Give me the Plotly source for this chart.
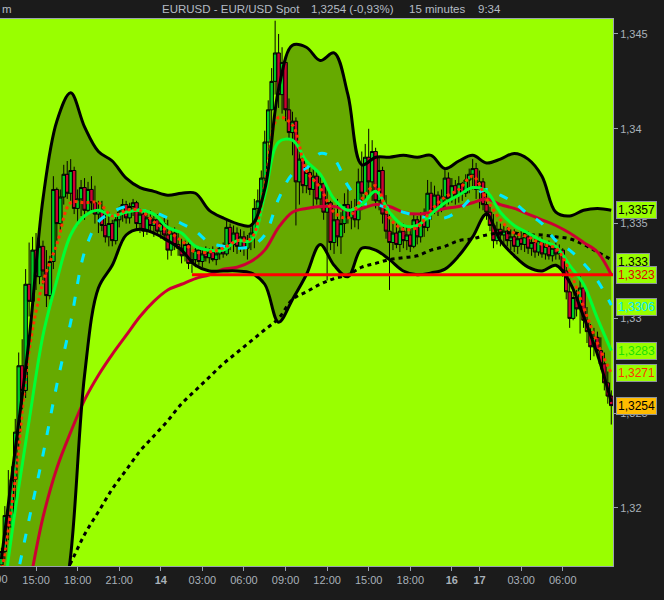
import plotly.graph_objects as go

# ---------------- candle data (15-minute bars, index = bar number) ----------------
bars = list(range(2, 179))

opens = [1.3170,1.3177,1.3196,1.3190,1.3215,1.3240,1.3275,1.3262,1.3318,1.3309,1.3336,1.3322,1.3338,1.3325,1.3312,
         1.3330,1.3368,1.3350,1.3364,1.3376,1.3366,1.3378,1.3358,1.3363,1.3369,1.3357,1.3368,1.3361,1.3355,1.3357,
         1.3349,1.3343,1.3350,1.3341,1.3352,1.3356,1.3360,1.3353,1.3359,1.3361,1.3350,1.3355,1.3346,1.3353,1.3349,
         1.3352,1.3346,1.3350,1.3344,1.3336,1.3345,1.3339,1.3337,1.3333,1.3339,1.3329,1.3331,1.3336,1.3330,1.3334,
         1.3332,1.3335,1.3331,1.3334,1.3337,1.3334,1.3348,1.3339,1.3345,1.3338,1.3343,1.3337,1.3341,1.3345,1.3358,
         1.3362,1.3374,1.3393,1.3410,1.3425,1.3440,1.3418,1.3435,1.3410,1.3398,1.3404,1.3372,1.3384,1.3370,1.3377,
         1.3368,1.3375,1.3363,1.3371,1.3356,1.3361,1.3340,1.3352,1.3343,1.3350,1.3360,1.3353,1.3358,1.3352,1.3372,
         1.3366,1.3385,1.3372,1.3388,1.3362,1.3378,1.3355,1.3346,1.3340,1.3345,1.3339,1.3346,1.3341,1.3344,1.3338,
         1.3352,1.3343,1.3351,1.3348,1.3366,1.3357,1.3365,1.3358,1.3364,1.3374,1.3363,1.3370,1.3365,1.3371,1.3366,
         1.3373,1.3376,1.3379,1.3368,1.3372,1.3360,1.3356,1.3349,1.3341,1.3347,1.3344,1.3346,1.3341,1.3343,1.3338,
         1.3342,1.3339,1.3343,1.3337,1.3340,1.3335,1.3341,1.3334,1.3338,1.3333,1.3337,1.3334,1.3336,1.3325,1.3314,
         1.3300,1.3311,1.3305,1.3316,1.3299,1.3293,1.3285,1.3290,1.3283,1.3276,1.3266,1.3259]
highs = [1.3179,1.3201,1.3220,1.3222,1.3247,1.3282,1.3289,1.3326,1.3340,1.3343,1.3345,1.3342,1.3341,1.3336,1.3333,
         1.3375,1.3369,1.3368,1.3381,1.3383,1.3384,1.3380,1.3368,1.3373,1.3374,1.3372,1.3375,1.3370,1.3362,1.3362,
         1.3356,1.3356,1.3352,1.3355,1.3359,1.3363,1.3362,1.3361,1.3363,1.3362,1.3358,1.3357,1.3356,1.3357,1.3354,
         1.3355,1.3352,1.3353,1.3352,1.3347,1.3348,1.3345,1.3342,1.3341,1.3340,1.3335,1.3338,1.3338,1.3337,1.3338,
         1.3337,1.3338,1.3336,1.3339,1.3340,1.3352,1.3350,1.3349,1.3348,1.3347,1.3346,1.3344,1.3348,1.3363,1.3368,
         1.3378,1.3399,1.3415,1.3432,1.3457,1.3450,1.3443,1.3438,1.3416,1.3409,1.3406,1.3390,1.3386,1.3380,1.3381,
         1.3379,1.3378,1.3375,1.3373,1.3369,1.3362,1.3358,1.3363,1.3356,1.3366,1.3368,1.3362,1.3363,1.3379,1.3388,
         1.3392,1.3400,1.3394,1.3390,1.3385,1.3380,1.3365,1.3357,1.3350,1.3350,1.3348,1.3350,1.3349,1.3347,1.3355,
         1.3354,1.3356,1.3358,1.3373,1.3372,1.3370,1.3367,1.3368,1.3379,1.3377,1.3374,1.3373,1.3375,1.3372,1.3376,
         1.3379,1.3384,1.3382,1.3378,1.3374,1.3366,1.3359,1.3355,1.3351,1.3350,1.3349,1.3348,1.3347,1.3347,1.3345,
         1.3346,1.3345,1.3346,1.3344,1.3342,1.3343,1.3343,1.3340,1.3341,1.3339,1.3340,1.3339,1.3337,1.3328,1.3321,
         1.3315,1.3315,1.3323,1.3318,1.3306,1.3297,1.3295,1.3293,1.3290,1.3282,1.3272,1.3262]
lows = [1.3165,1.3173,1.3183,1.3188,1.3201,1.3231,1.3252,1.3258,1.3301,1.3306,1.3315,1.3318,1.3318,1.3306,1.3310,
        1.3326,1.3341,1.3346,1.3360,1.3363,1.3362,1.3355,1.3349,1.3354,1.3352,1.3355,1.3357,1.3350,1.3345,1.3346,
        1.3340,1.3338,1.3338,1.3339,1.3348,1.3351,1.3350,1.3350,1.3354,1.3347,1.3345,1.3343,1.3344,1.3345,1.3343,
        1.3344,1.3342,1.3341,1.3331,1.3333,1.3336,1.3333,1.3329,1.3330,1.3326,1.3324,1.3327,1.3328,1.3327,1.3330,
        1.3329,1.3330,1.3328,1.3331,1.3332,1.3333,1.3336,1.3335,1.3334,1.3335,1.3333,1.3331,1.3336,1.3337,1.3352,
        1.3358,1.3366,1.3384,1.3398,1.3418,1.3411,1.3408,1.3404,1.3394,1.3386,1.3349,1.3360,1.3366,1.3366,1.3365,
        1.3358,1.3360,1.3358,1.3352,1.3320,1.3336,1.3334,1.3338,1.3334,1.3345,1.3350,1.3347,1.3348,1.3347,1.3357,
        1.3360,1.3365,1.3362,1.3358,1.3357,1.3350,1.3342,1.3315,1.3336,1.3337,1.3335,1.3337,1.3336,1.3335,1.3337,
        1.3339,1.3340,1.3343,1.3346,1.3352,1.3355,1.3354,1.3356,1.3358,1.3360,1.3361,1.3360,1.3361,1.3362,1.3364,
        1.3366,1.3368,1.3363,1.3358,1.3357,1.3352,1.3346,1.3337,1.3339,1.3338,1.3339,1.3338,1.3336,1.3335,1.3334,
        1.3336,1.3335,1.3334,1.3333,1.3332,1.3333,1.3332,1.3331,1.3331,1.3330,1.3331,1.3331,1.3322,1.3310,1.3295,
        1.3299,1.3301,1.3292,1.3295,1.3287,1.3278,1.3280,1.3279,1.3273,1.3262,1.3255,1.3244]
closes = [1.3177,1.3196,1.3190,1.3215,1.3240,1.3275,1.3262,1.3318,1.3309,1.3336,1.3322,1.3338,1.3325,1.3312,1.3330,
          1.3368,1.3350,1.3364,1.3376,1.3366,1.3378,1.3358,1.3363,1.3369,1.3357,1.3368,1.3361,1.3355,1.3357,1.3349,
          1.3343,1.3350,1.3341,1.3352,1.3356,1.3360,1.3353,1.3359,1.3361,1.3350,1.3355,1.3346,1.3353,1.3349,1.3352,
          1.3346,1.3350,1.3344,1.3336,1.3345,1.3339,1.3337,1.3333,1.3339,1.3329,1.3331,1.3336,1.3330,1.3334,1.3332,
          1.3335,1.3331,1.3334,1.3337,1.3334,1.3348,1.3339,1.3345,1.3338,1.3343,1.3337,1.3341,1.3345,1.3358,1.3362,
          1.3374,1.3393,1.3410,1.3425,1.3440,1.3418,1.3435,1.3410,1.3398,1.3404,1.3372,1.3384,1.3370,1.3377,1.3368,
          1.3375,1.3363,1.3371,1.3356,1.3361,1.3340,1.3352,1.3343,1.3350,1.3360,1.3353,1.3358,1.3352,1.3372,1.3366,
          1.3385,1.3372,1.3388,1.3362,1.3378,1.3355,1.3346,1.3340,1.3345,1.3339,1.3346,1.3341,1.3344,1.3338,1.3352,
          1.3343,1.3351,1.3348,1.3366,1.3357,1.3365,1.3358,1.3364,1.3374,1.3363,1.3370,1.3365,1.3371,1.3366,1.3373,
          1.3376,1.3379,1.3368,1.3372,1.3360,1.3356,1.3349,1.3341,1.3347,1.3344,1.3346,1.3341,1.3343,1.3338,1.3342,
          1.3339,1.3343,1.3337,1.3340,1.3335,1.3341,1.3334,1.3338,1.3333,1.3337,1.3334,1.3336,1.3325,1.3314,1.3300,
          1.3311,1.3305,1.3316,1.3299,1.3293,1.3285,1.3290,1.3283,1.3276,1.3266,1.3259,1.3254]

# ---------------- indicator readings (sampled every 4 bars) ----------------
ind_bars = [2, 6, 10, 14, 18, 22, 26, 30, 34, 38, 42, 46, 50, 54, 58, 62, 66, 70, 74, 78, 82, 86, 90,
            94, 98, 102, 106, 110, 114, 118, 122, 126, 130, 134, 138, 142, 146, 150, 154, 158, 162, 166, 170, 174, 178]
bb_upper = [1.3173,1.3231,1.3289,1.3363,1.3404,1.3419,1.3401,1.3388,1.3383,1.3374,1.3369,1.3367,1.3365,1.3366,1.3366,
            1.3357,1.3353,1.3350,1.3349,1.3368,1.3421,1.3444,1.3443,1.3436,1.3440,1.3418,1.3381,1.3385,1.3385,1.3386,
            1.3385,1.3386,1.3379,1.3383,1.3386,1.3382,1.3384,1.3387,1.3384,1.3375,1.3356,1.3354,1.3357,1.3358,1.3357]
bb_lower = [1.3078,1.3088,1.3099,1.3094,1.3126,1.3175,1.3270,1.3316,1.3328,1.3344,1.3347,1.3345,1.3341,1.3336,1.3328,
            1.3325,1.3325,1.3325,1.3324,1.3318,1.3298,1.3310,1.3323,1.3339,1.3328,1.3322,1.3337,1.3336,1.3331,1.3325,
            1.3323,1.3324,1.3326,1.3333,1.3343,1.3355,1.3341,1.3333,1.3327,1.3325,1.3328,1.3319,1.3301,1.3281,1.3256]
bb_mid = [1.3125,1.3159,1.3194,1.3228,1.3265,1.3298,1.3335,1.3351,1.3356,1.3359,1.3357,1.3356,1.3353,1.3350,1.3346,
          1.3340,1.3338,1.3337,1.3338,1.3344,1.3363,1.3376,1.3379,1.3387,1.3384,1.3370,1.3361,1.3360,1.3358,1.3356,
          1.3354,1.3353,1.3353,1.3357,1.3364,1.3368,1.3365,1.3361,1.3355,1.3350,1.3341,1.3336,1.3329,1.3320,1.3307]
ma_fast = [1.3165,1.3215,1.3283,1.3319,1.3339,1.3361,1.3361,1.3361,1.3354,1.3357,1.3357,1.3351,1.3346,1.3341,1.3335,
           1.3335,1.3337,1.3341,1.3342,1.3370,1.3406,1.3402,1.3378,1.3369,1.3356,1.3353,1.3363,1.3370,1.3353,1.3347,
           1.3348,1.3357,1.3364,1.3368,1.3375,1.3363,1.3352,1.3345,1.3343,1.3339,1.3337,1.3325,1.3306,1.3287,1.3271]
ma_green = [1.3146,1.3199,1.3246,1.3291,1.3320,1.3344,1.3354,1.3357,1.3354,1.3356,1.3357,1.3355,1.3348,1.3345,1.3338,
            1.3336,1.3336,1.3341,1.3341,1.3365,1.3393,1.3394,1.3383,1.3376,1.3363,1.3357,1.3360,1.3367,1.3356,1.3349,
            1.3349,1.3355,1.3361,1.3365,1.3369,1.3367,1.3356,1.3349,1.3345,1.3341,1.3338,1.3328,1.3318,1.3300,1.3283]
ma_crimson = [1.3099,1.3125,1.3159,1.3195,1.3221,1.3240,1.3257,1.3270,1.3281,1.3291,1.3301,1.3309,1.3315,1.3318,1.3321,
              1.3323,1.3326,1.3327,1.3330,1.3336,1.3348,1.3356,1.3358,1.3359,1.3359,1.3357,1.3358,1.3360,1.3359,1.3356,
              1.3355,1.3356,1.3358,1.3359,1.3361,1.3363,1.3360,1.3358,1.3355,1.3352,1.3349,1.3345,1.3340,1.3335,1.3323]
ma_slow = [1.3099,1.3109,1.3125,1.3141,1.3157,1.3171,1.3186,1.3198,1.3210,1.3220,1.3230,1.3238,1.3246,1.3255,1.3262,
           1.3269,1.3276,1.3282,1.3288,1.3294,1.3300,1.3310,1.3314,1.3318,1.3321,1.3323,1.3327,1.3329,1.3331,1.3332,
           1.3333,1.3336,1.3338,1.3341,1.3342,1.3344,1.3345,1.3345,1.3344,1.3344,1.3343,1.3342,1.3339,1.3335,1.3331]

ref_level = 1.3323
ref_start_bar = 57

# ---------------- axes ----------------
x_range = [1.6, 178.5]
y_range = [1.31694, 1.34579]
x_tick_bars = [12, 24, 36, 48, 60, 72, 84, 96, 108, 120, 132, 140, 152, 164]
x_tick_text = ["15:00", "18:00", "21:00", "<b>14</b>", "03:00", "06:00", "09:00", "12:00",
               "15:00", "18:00", "<b>16</b>", "<b>17</b>", "03:00", "06:00"]
y_tick_vals = [1.32, 1.325, 1.33, 1.335, 1.34, 1.345]
y_tick_text = ["1,32", "1,325", "1,33", "1,335", "1,34", "1,345"]

# right-side value labels
label_vals = [1.3357, 1.3330, 1.3323, 1.3306, 1.3283, 1.3271, 1.3254]
label_text = ["1,3357", "1,333", "1,3323", "1,3306", "1,3283", "1,3271", "1,3254"]
label_font = ["#000000", "#000000", "#e00000", "#00e8ff", "#22e000", "#ff3300", "#000000"]
label_bg = ["#99ff00", "#99ff00", "#99ff00", "#99ff00", "#99ff00", "#99ff00", "#ffbb00"]

# header texts
header_parts = ["EURUSD - EUR/USD Spot", "1,3254 (-0,93%)", "15 minutes", "9:34", "m"]
header_px = [160, 309, 407, 476, 0]

LIME = "#99ff00"
BAND = "#66aa00"
GRAY = "#9aa3ad"
PLOT_W = 613.0
OV = dict(xaxis="x2", yaxis="y2")  # overlay subplot drawn above the band fill

fig = go.Figure()

# Bollinger fill (base subplot, lowest layer)
fig.add_trace(go.Scatter(x=ind_bars, y=bb_upper, mode="lines",
                         line=dict(width=0, shape="spline", color=BAND), hoverinfo="skip"))
fig.add_trace(go.Scatter(x=ind_bars, y=bb_lower, mode="lines", fill="tonexty", fillcolor=BAND,
                         line=dict(width=0, shape="spline", color=BAND), hoverinfo="skip"))

# candles
fig.add_trace(go.Candlestick(
    x=bars, open=opens, high=highs, low=lows, close=closes,
    increasing=dict(fillcolor="#00cc22", line=dict(color="#000000", width=1)),
    decreasing=dict(fillcolor="#cc0033", line=dict(color="#000000", width=1)),
    whiskerwidth=0, **OV))

# moving averages
fig.add_trace(go.Scatter(x=ind_bars, y=ma_slow, mode="lines",
                         line=dict(color="#000000", width=3, dash="4px,4px", shape="spline"), **OV))
fig.add_trace(go.Scatter(x=ind_bars, y=ma_crimson, mode="lines",
                         line=dict(color="#cc0033", width=3, shape="spline"), **OV))
fig.add_trace(go.Scatter(x=ind_bars, y=bb_mid, mode="lines",
                         line=dict(color="#00e8ff", width=3, dash="9px,13px", shape="spline"), **OV))
fig.add_trace(go.Scatter(x=ind_bars, y=ma_green, mode="lines",
                         line=dict(color="#00ff33", width=3, shape="spline"), **OV))
fig.add_trace(go.Scatter(x=ind_bars, y=ma_fast, mode="lines",
                         line=dict(color="#ff3300", width=3, dash="3px,3px", shape="spline"), **OV))

# band outlines
fig.add_trace(go.Scatter(x=ind_bars, y=bb_upper, mode="lines",
                         line=dict(color="#000000", width=3, shape="spline"), **OV))
fig.add_trace(go.Scatter(x=ind_bars, y=bb_lower, mode="lines",
                         line=dict(color="#000000", width=3, shape="spline"), **OV))

# horizontal reference line
fig.add_trace(go.Scatter(x=[ref_start_bar, bars[-1] + 1], y=[ref_level, ref_level], mode="lines",
                         line=dict(color="#ff0000", width=3), **OV))

annotations = []
for v, t, fc, bg in zip(label_vals, label_text, label_font, label_bg):
    annotations.append(dict(xref="paper", x=1, xanchor="left", xshift=3, yref="y", y=v, yanchor="middle",
                            text=t, showarrow=False, bgcolor=bg, bordercolor="#8c949c", borderwidth=1,
                            borderpad=1, font=dict(color=fc, size=12, family="Liberation Sans, Arial, sans-serif")))

title_font = dict(family="Liberation Sans, Arial, sans-serif", size=11.5, color="#b4bcc4")
for txt, px in zip(header_parts, header_px):
    annotations.append(dict(xref="paper", x=px / PLOT_W, xanchor="left", yref="paper", y=1, yanchor="bottom",
                            yshift=2, text=txt, showarrow=False, font=title_font))
annotations.append(dict(xref="paper", x=-5.6 / PLOT_W, xanchor="center", yref="paper", y=0, yanchor="top",
                        yshift=-5, text="12:00", showarrow=False,
                        font=dict(family="Liberation Sans, Arial, sans-serif", size=11, color="#a9b1b9")))

fig.update_layout(
    width=664, height=600,
    margin=dict(l=0, r=51, t=19, b=34),
    paper_bgcolor="#1b1b1b", plot_bgcolor=LIME,
    showlegend=False,
    boxgap=0, boxgroupgap=0,
    font=dict(family="Liberation Sans, Arial, sans-serif", size=11, color="#a9b1b9"),
    annotations=annotations,
    xaxis=dict(range=x_range, tickmode="array", tickvals=x_tick_bars, ticktext=x_tick_text,
               ticks="outside", ticklen=4, tickcolor=GRAY, showline=True, linecolor=GRAY, linewidth=1,
               mirror=True, showgrid=False, zeroline=False, rangeslider=dict(visible=False), fixedrange=True),
    yaxis=dict(side="right", range=y_range, tickmode="array", tickvals=y_tick_vals,
               ticktext=y_tick_text, ticks="outside", ticklen=4, tickcolor=GRAY, showline=True,
               linecolor=GRAY, linewidth=1, showgrid=False, zeroline=False, fixedrange=True),
    xaxis2=dict(overlaying="x", range=x_range, visible=False, showgrid=False, zeroline=False,
                rangeslider=dict(visible=False), fixedrange=True),
    yaxis2=dict(overlaying="y", side="right", range=y_range, visible=False, showgrid=False,
                zeroline=False, fixedrange=True),
)

fig.write_html("out.html", config=dict(displayModeBar=False),
               post_script="document.body.style.margin='0';document.body.style.overflow='hidden';")
